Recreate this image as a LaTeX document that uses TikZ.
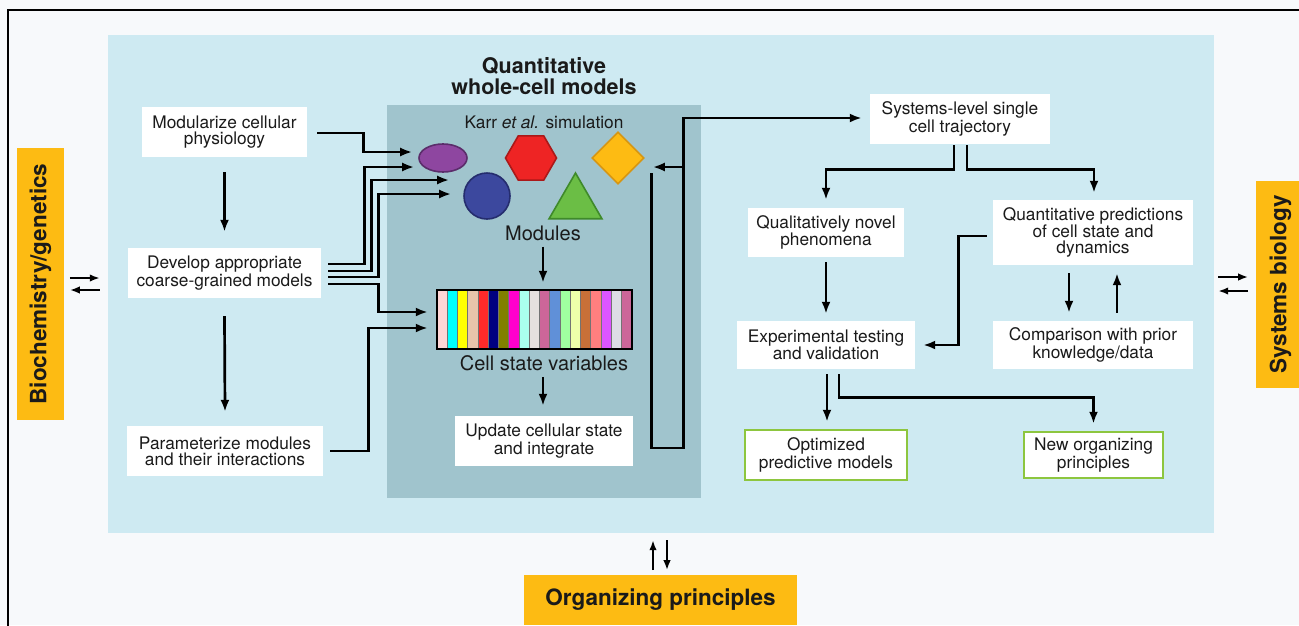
\documentclass[tikz,border=0pt]{standalone}
\usepackage{fontspec}
\setmainfont{TeX Gyre Heros}
\usetikzlibrary{shapes.geometric,arrows.meta,calc}

\definecolor{pagebg}{HTML}{F7F9FB}
\definecolor{lightblue}{HTML}{CEEAF2}
\definecolor{panelc}{HTML}{A0C4CD}
\definecolor{orng}{HTML}{FDBB13}
\definecolor{grn}{HTML}{8DC63F}
\definecolor{txt}{HTML}{1A1A1A}
\definecolor{s1}{HTML}{FFD6D6}
\definecolor{s2}{HTML}{00FFFF}
\definecolor{s3}{HTML}{FFFF00}
\definecolor{s4}{HTML}{E8C4AA}
\definecolor{s5}{HTML}{FF2A2A}
\definecolor{s6}{HTML}{000080}
\definecolor{s7}{HTML}{808000}
\definecolor{s8}{HTML}{FF00CC}
\definecolor{s9}{HTML}{AAFFEE}
\definecolor{s10}{HTML}{E5E0DE}
\definecolor{s11}{HTML}{CC6699}
\definecolor{s12}{HTML}{6090D8}
\definecolor{s13}{HTML}{A0FFA0}
\definecolor{s14}{HTML}{EEFFAA}
\definecolor{s15}{HTML}{C87038}
\definecolor{s16}{HTML}{FF7F7F}
\definecolor{s17}{HTML}{DD55FF}
\definecolor{s18}{HTML}{DDDDE5}
\definecolor{s19}{HTML}{CC6699}

\newcommand{\bxfont}{\fontsize{17.3}{16}\selectfont}
\newcommand{\tgfont}{\fontsize{22.5}{24}\selectfont\bfseries}
\newcommand{\ttlfont}{\fontsize{21.5}{21}\selectfont\bfseries}
\newcommand{\lbfont}{\fontsize{20}{20}\selectfont}

\begin{document}
\begin{tikzpicture}[x=1pt,y=-1pt,
  box/.style={fill=white, inner sep=0pt, align=center, font=\bxfont, text=txt},
  gbox/.style={box, draw=grn, line width=2.5pt},
  tag/.style={fill=orng, inner sep=0pt, font=\tgfont, text=txt},
  arr/.style={line width=2.7pt, -{Latex[length=12pt,width=9pt]}},
  sarr/.style={line width=2.2pt, -{Latex[length=10pt,width=7.5pt]}},
  lbl/.style={inner sep=0pt, font=\lbfont, text=txt},
  shp/.style={inner sep=0pt, line width=1.6pt},
]
\useasboundingbox (0,0) rectangle (1299,625);
\fill[pagebg] (0,0) rectangle (1299,625);
\draw[line width=2.5pt] (8,630) -- (8,10) -- (1305,10);

% regions
\node[fill=lightblue, minimum width=1106, minimum height=498, inner sep=0pt] (main) at (661,284) {};
\node[fill=panelc, minimum width=314, minimum height=393, inner sep=0pt] (panel) at (544,301.5) {};

% tags
\node[tag, rotate=90, minimum width=272, minimum height=47] (bio) at (40.5,284) {Biochemistry/genetics};
\node[tag, rotate=90, minimum width=207, minimum height=49] (sysb) at (1280.5,284.5) {Systems biology};
\node[tag, minimum width=273, minimum height=50] (org) at (660.5,600) {Organizing principles};

% title
\node[inner sep=0pt, align=center, font=\ttlfont, text=txt] (title) at (544,76) {Quantitative\\whole-cell models};
\node[inner sep=0pt, font=\bxfont, text=txt] (karr) at (544,122) {Karr \textit{et al.} simulation};

% shapes
\node[shp, ellipse, minimum width=48, minimum height=28, fill={rgb,255:red,142;green,70;blue,160}, draw={rgb,255:red,91;green,45;blue,107}] (ell) at (443,158) {};
\node[shp, regular polygon, regular polygon sides=6, minimum size=51, fill={rgb,255:red,238;green,36;blue,36}, draw={rgb,255:red,170;green,25;blue,25}] (hex) at (531,158) {};
\node[shp, diamond, minimum width=52, minimum height=52, fill={rgb,255:red,253;green,187;blue,19}, draw={rgb,255:red,214;green,150;blue,20}] (dia) at (618,158) {};
\node[shp, circle, minimum size=46, fill={rgb,255:red,60;green,72;blue,158}, draw={rgb,255:red,37;green,45;blue,110}] (cir) at (487,196) {};
\node[shp, regular polygon, regular polygon sides=3, minimum size=61, fill={rgb,255:red,107;green,190;blue,69}, draw={rgb,255:red,63;green,138;blue,42}] (tri) at (575.5,203.5) {};

\node[lbl] (modl) at (543,233) {Modules};

% state bar
\node[inner sep=0pt, minimum width=195, minimum height=59] (bar) at (534.5,319.5) {};
\foreach \i in {1,...,19} {
  \fill[fill=s\i, draw=black!55, line width=0.6pt]
    ($(bar.north west)+({(\i-1)*195/19},0)$) rectangle ($(bar.north west)+({\i*195/19},59)$);
}
\draw[line width=2pt] (bar.north west) rectangle (bar.south east);
\node[lbl] (csv) at (544,363) {Cell state variables};

% white boxes
\node[box, minimum width=165, minimum height=50] (mod) at (224.5,132) {Modularize cellular\\physiology};
\node[box, minimum width=193, minimum height=50] (dev) at (224.5,273) {Develop appropriate\\coarse-grained models};
\node[box, minimum width=196, minimum height=50] (par) at (225,451) {Parameterize modules\\and their interactions};
\node[box, minimum width=178, minimum height=50] (upd) at (544,441) {Update cellular state\\and integrate};
\node[box, minimum width=180, minimum height=50] (sys) at (960,119) {Systems-level single\\cell trajectory};
\node[box, minimum width=156, minimum height=49] (qual) at (826,232.5) {Qualitatively novel\\phenomena};
\node[box, minimum width=178, minimum height=48] (exp) at (826,345) {Experimental testing\\and validation};
\node[box, minimum width=200, minimum height=65] (quant) at (1093,232.5) {Quantitative predictions\\of cell state and\\dynamics};
\node[box, minimum width=200, minimum height=48] (comp) at (1093,345) {Comparison with prior\\knowledge/data};
\node[gbox, minimum width=162, minimum height=50] (opt) at (826,455) {Optimized\\predictive models};
\node[gbox, minimum width=139, minimum height=46] (new) at (1093.5,455) {New organizing\\principles};

% left column arrows
\draw[arr] ($(mod.south)+(0,15)$) -- ($(dev.north)+(0,-16)$);
\draw[arr] ($(dev.south)+(0,18)$) -- ($(par.north)+(0,-14)$);

% into modules
\draw[arr] ($(mod.east)+(10,1)$) -- ++(46,0) |- ($(ell.west)+(-6,-6)$);
\draw[arr] ($(dev.east)+(7,-9)$) -- ++(36,0) |- ($(ell.west)+(-4,9)$);
\draw[arr] ($(dev.east)+(7,-2)$) -- ++(43,0) |- ($(cir.west)+(-14,-16)$);
\draw[arr] ($(dev.east)+(7,4)$) -- ++(50,0) |- ($(cir.west)+(-12,-2)$);
\draw[arr] ($(dev.east)+(7,11)$) -- ++(50,0) |- ($(bar.west)+(-9,-7.5)$);
\draw[arr] ($(par.east)+(7,0)$) -- ++(38,0) |- ($(bar.west)+(-9,8.5)$);

% inside panel
\coordinate (mtop) at ($(modl.south)+(0,6)$);
\draw[arr] (mtop) -- ($(mtop |- bar.north)+(0,-7)$);
\coordinate (ctop) at ($(csv.south)+(-1,6)$);
\draw[arr] (ctop) -- ($(ctop |- upd.north)+(0,-10)$);

% loop
\coordinate (lp1) at ($(dia.east)+(7,15)$);
\coordinate (lp2) at ($(upd.east)+(50,7)$);
\coordinate (lp3) at ($(dia.east)+(8,9)$);
\draw[arr, line join=miter] (lp1) |- (lp2) |- ($(sys.west)+(-8,-1)$);
\draw[arr] (lp2 |- lp3) -- (lp3);

% right side
\draw[arr] ($(sys.south)+(-6,1)$) -- ++(0,24) -| ($(qual.north)+(0,-8)$);
\draw[arr] ($(sys.south)+(7,1)$) -- ++(0,24) -| ($(quant.north)+(1,-7)$);
\draw[arr] ($(qual.south)+(0,5)$) -- ($(exp.north)+(0,-7)$);
\draw[arr] ($(quant.west)+(-6,3.5)$) -- ++(-28,0) |- ($(exp.east)+(8,0)$);
\draw[arr] ($(quant.south)+(-24,8)$) -- ($(comp.north)+(-24,-8)$);
\draw[arr] ($(comp.north)+(24,-8)$) -- ($(quant.south)+(24,8)$);
\draw[arr] ($(exp.south)+(1,5)$) -- ($(opt.north)+(1,-7)$);
\draw[arr] ($(exp.south)+(13,5)$) -- ++(0,23) -| ($(new.north)+(0,-7)$);

% double arrows
\draw[sarr] ($(main.west)+(-38,-6)$) -- ($(main.west)+(-8,-6)$);
\draw[sarr] ($(main.west)+(-8,6)$) -- ($(main.west)+(-38,6)$);
\draw[sarr] ($(main.east)+(4,-7)$) -- ($(main.east)+(34,-7)$);
\draw[sarr] ($(main.east)+(34,7)$) -- ($(main.east)+(4,7)$);
\draw[sarr] ($(main.south)+(-8,37)$) -- ($(main.south)+(-8,7)$);
\draw[sarr] ($(main.south)+(6,7)$) -- ($(main.south)+(6,37)$);
\end{tikzpicture}
\end{document}
